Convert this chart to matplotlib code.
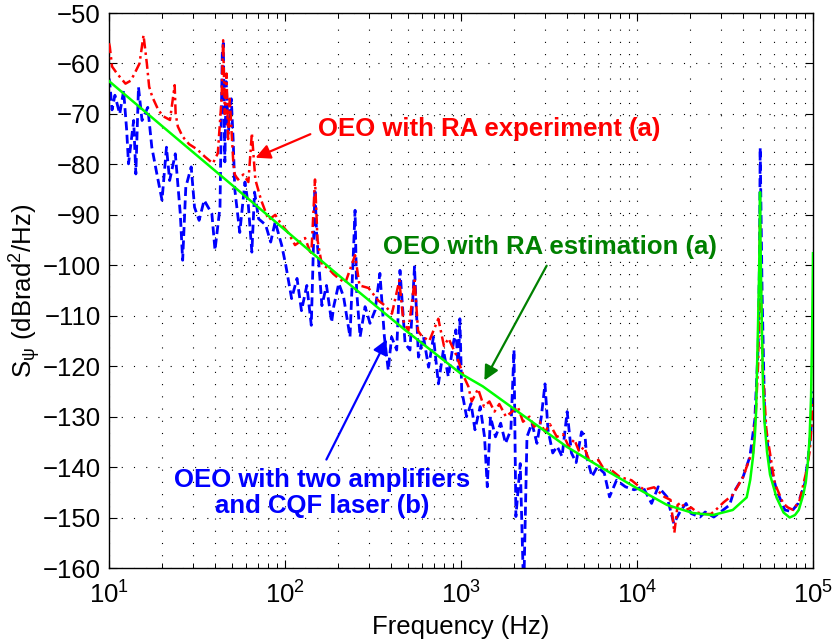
import numpy as np
import matplotlib
matplotlib.use("Agg")
import matplotlib.pyplot as plt
from matplotlib.ticker import LogLocator, NullFormatter

plt.rcParams['font.family'] = ['Liberation Sans', 'DejaVu Sans']
plt.rcParams['mathtext.fontset'] = 'custom'
plt.rcParams['mathtext.rm'] = 'Liberation Sans'
plt.rcParams['mathtext.it'] = 'Liberation Sans'
plt.rcParams['mathtext.default'] = 'regular'

# OEO with two amplifiers and CQF laser (b), blue dashed
blue_freq = [10.0, 10.1, 10.4, 10.8, 11.5, 12.1, 12.6, 12.9, 13.8, 14.2,
             14.7, 15.4, 16.6, 17.5, 18.7, 20.0, 21.2, 22.1, 23.8, 25.4,
             26.2, 27.3, 29.3, 30.6, 32.5, 34.7, 38.4, 40.0, 42.7, 44.0,
             44.6, 45.5, 46.3, 47.7, 49.5, 50.8, 51.8, 55.3, 59.2, 61.9,
             64.8, 67.1, 70.8, 77.6, 82.9, 87.9, 95.7, 101, 109, 117,
             124, 133, 141, 148, 151, 162, 172, 184, 189, 202,
             215, 234, 250, 255, 267, 285, 304, 325, 346, 367,
             386, 403, 431, 450, 481, 513, 544, 573, 612, 654,
             697, 744, 794, 847, 904, 935, 965, 985, 1009, 1075,
             1140, 1200, 1285, 1360, 1410, 1470, 1570, 1680, 1790, 1920,
             2000, 2050, 2170, 2270, 2370, 2530, 2700, 2860, 3000, 3120,
             3320, 3520, 3750, 4010, 4240, 4510, 4840, 5070, 5180, 5550,
             5950, 6520, 6980, 7650, 8590, 9630, 10800, 12100, 13200, 14800,
             16200, 17700, 19000, 20300, 22800, 24400, 27300, 30600, 33600, 35200,
             40100, 43800, 46700, 48800, 49600, 50100, 51400, 53200, 56800, 62000,
             69200, 75500, 82300, 89900, 94000, 97300, 100000]
blue_db = [-63.0, -63.9, -69.2, -66.3, -70.0, -65.4, -73.3, -79.9, -71.3, -81.9,
           -64.7, -71.3, -68.7, -76.6, -81.9, -87.1, -76.6, -83.2, -77.9, -89.8,
           -99.0, -84.5, -80.5, -88.5, -91.1, -87.1, -89.8, -97.0, -88.5, -58.0,
           -56.0, -79.5, -63.6, -73.5, -67.0, -75.6, -84.9, -93.5, -83.5, -88.2,
           -97.4, -85.5, -90.8, -92.0, -95.4, -91.4, -96.0, -100.0, -106.6, -102.6,
           -109.0, -104.0, -111.9, -84.9, -93.5, -108.0, -104.0, -111.3, -108.2, -103.6,
           -106.2, -114.2, -89.1, -104.9, -114.2, -108.2, -111.5, -108.9, -101.6, -114.2,
           -120.8, -114.2, -116.8, -101.0, -115.5, -116.8, -100.3, -118.2, -114.2, -120.2,
           -114.2, -123.5, -116.8, -122.1, -115.5, -112.8, -120.8, -110.6, -124.8, -130.0,
           -127.4, -132.6, -128.0, -134.0, -143.9, -130.0, -134.0, -131.3, -135.3, -132.6,
           -116.8, -149.8, -139.3, -165.0, -134.0, -131.3, -135.3, -130.0, -123.5, -132.6,
           -137.2, -135.9, -137.9, -129.0, -137.2, -139.1, -133.0, -134.0, -138.0, -141.9,
           -139.9, -141.2, -145.9, -142.6, -143.9, -144.5, -143.9, -147.2, -143.9, -145.9,
           -151.2, -148.6, -147.2, -149.2, -149.9, -148.9, -149.9, -148.6, -147.5, -145.2,
           -141.9, -137.9, -130.6, -116.1, -100.0, -76.7, -106.0, -130.6, -139.2, -144.5,
           -148.5, -148.8, -147.2, -143.2, -137.9, -132.6, -125.0]

# OEO with RA experiment (a), red dash-dot
red_freq = [10.0, 10.1, 10.4, 11.1, 12.4, 13.3, 14.1, 14.9, 15.7, 16.4,
            16.9, 17.6, 19.1, 20.4, 22.2, 23.6, 23.9, 24.6, 26.2, 28.5,
            31.6, 35.1, 38.9, 41.5, 43.6, 44.5, 45.5, 46.5, 47.5, 48.5,
            50.8, 51.8, 54.0, 58.0, 61.9, 64.8, 67.8, 73.0, 80.6, 88.0,
            95.7, 104, 114, 130, 141, 148, 153, 162, 175, 188,
            200, 220, 250, 265, 298, 339, 370, 405, 446, 470,
            502, 545, 570, 597, 660, 743, 800, 849, 945, 1035,
            1100, 1150, 1250, 1350, 1450, 1550, 1650, 1800, 1950, 2100,
            2250, 2450, 2600, 2800, 3000, 3200, 3500, 3800, 4100, 4400,
            4700, 5000, 5400, 6040, 6500, 7150, 8000, 9300, 10000, 11000,
            12500, 14300, 15500, 16300, 17000, 17800, 19000, 20300, 22000, 24000,
            26300, 28000, 31000, 35000, 40000, 44000, 45600, 47500, 48800, 50000,
            50300, 51600, 54300, 60600, 67700, 72000, 77200, 84100, 92000, 96000,
            100000]
red_db = [-56.0, -56.7, -60.6, -62.0, -64.0, -63.4, -61.7, -60.0, -54.4, -60.0,
          -64.6, -66.6, -69.3, -70.5, -71.2, -64.3, -70.0, -72.5, -74.5, -76.0,
          -77.0, -78.5, -79.8, -77.8, -67.0, -55.4, -70.0, -62.0, -75.0, -67.0,
          -79.5, -82.0, -83.0, -82.0, -83.5, -73.8, -83.0, -87.0, -91.0, -90.0,
          -92.0, -93.5, -96.0, -94.6, -98.0, -83.0, -95.0, -100.0, -100.5, -101.7,
          -102.5, -103.5, -98.0, -104.0, -104.5, -107.0, -108.0, -109.6, -103.0, -111.0,
          -113.0, -103.0, -113.0, -114.0, -115.0, -110.6, -116.0, -114.5, -118.0, -122.0,
          -124.0, -127.0, -124.5, -128.0, -127.0, -129.0, -127.5, -130.0, -129.0, -128.0,
          -131.0, -130.0, -132.0, -131.0, -133.0, -131.5, -134.0, -133.5, -136.0, -134.5,
          -137.0, -136.0, -139.0, -138.6, -140.5, -140.6, -142.0, -142.6, -143.5, -144.5,
          -144.0, -145.9, -146.5, -153.0, -147.5, -147.0, -148.5, -148.0, -149.0, -149.3,
          -149.3, -148.5, -147.0, -145.5, -142.0, -138.0, -137.3, -128.0, -119.4, -92.0,
          -99.6, -119.4, -132.6, -143.2, -147.2, -148.0, -148.5, -146.5, -140.6, -136.6,
          -127.0]

# OEO with RA estimation (a), green solid
green_freq = [10, 20, 50, 100, 200, 480, 1000, 1330, 2160, 4000,
              6200, 10000, 14800, 20800, 27000, 35000, 42000, 44000, 45600, 46700,
              47500, 48100, 48700, 49300, 49700, 50000, 50300, 50700, 51300, 52000,
              53000, 54800, 57000, 62000, 68000, 73700, 79000, 83000, 88000, 91000,
              93500, 95500, 97500, 98700, 99500, 100000]
green_db = [-63.5, -72.4, -84.1, -93.0, -101.9, -112.8, -121.5, -124.0, -129.3, -136.0,
            -140.0, -144.2, -147.5, -149.1, -149.5, -148.5, -146.0, -142.5, -138.0, -134.0,
            -129.0, -120.0, -112.0, -103.0, -95.0, -85.5, -95.0, -103.0, -114.0, -124.0,
            -131.0, -137.0, -141.5, -146.0, -149.0, -150.0, -149.5, -148.5, -145.5, -143.0,
            -139.0, -134.6, -126.0, -115.0, -105.0, -97.6]

fs = 18.5      # axis text
fs_note = 18.5 # annotation text

fig = plt.figure(figsize=(8.33, 6.44), dpi=100)
ax = fig.add_axes([0.1309, 0.1180, 0.8451, 0.8618])

ax.plot(red_freq, red_db, color='red', lw=1.8, ls=(0, (4, 1.6, 1, 1.6)), zorder=3)
ax.plot(blue_freq, blue_db, color='blue', lw=2.0, ls=(0, (3.2, 1.6)), zorder=2)
ax.plot(green_freq, green_db, color='#00ff00', lw=1.8, zorder=4)

ax.set_xscale('log')
ax.set_xlim(10, 1e5)
ax.set_ylim(-160, -50)
ax.set_yticks(np.arange(-160, -49, 10))
ax.set_yticklabels([f"\u2212{abs(v)}" for v in range(-160, -49, 10)])
ax.xaxis.set_minor_locator(LogLocator(base=10, subs=np.arange(2, 10)))
ax.xaxis.set_minor_formatter(NullFormatter())

# matlab style dotted grid + inward ticks
ax.grid(True, which='major', color='k', ls=(0, (1, 10)), lw=0.8)
ax.xaxis.grid(True, which='minor', color='k', ls=(0, (1, 10)), lw=0.8)
ax.tick_params(which='both', direction='in', top=True, right=True, labelsize=fs)
ax.tick_params(which='major', length=6, width=0.8)
ax.tick_params(which='minor', length=3.5, width=0.7)
ax.tick_params(axis='x', pad=10)
ax.tick_params(axis='y', pad=6)
for s in ax.spines.values():
    s.set_linewidth(1.0)

ax.set_xlabel("Frequency (Hz)", fontsize=fs, labelpad=4)
ax.set_ylabel("S$_{ψ}$ (dBrad$^{2}$/Hz)", fontsize=fs, labelpad=0)

# annotations
ax.annotate('', xy=(65.7, -78.9), xytext=(144, -73.8),
            arrowprops=dict(arrowstyle='-|>', color='red', lw=1.6, mutation_scale=22))
ax.text(154, -73.0, "OEO with RA experiment (a)", color='red', fontsize=fs_note,
        fontweight='bold', ha='left', va='center')

ax.annotate('', xy=(1334, -123.3), xytext=(3120, -99.6),
            arrowprops=dict(arrowstyle='-|>', color='#008000', lw=1.6, mutation_scale=22))
ax.text(361, -96.4, "OEO with RA estimation (a)", color='#008000', fontsize=fs_note,
        fontweight='bold', ha='left', va='center')

ax.annotate('', xy=(385, -114.2), xytext=(169, -139),
            arrowprops=dict(arrowstyle='-|>', color='blue', lw=1.6, mutation_scale=22))
ax.text(162, -145.2, "OEO with two amplifiers\nand CQF laser (b)", color='blue',
        fontsize=fs_note, fontweight='bold', ha='center', va='center', linespacing=1.1)

fig.savefig("out.png", dpi=100)
